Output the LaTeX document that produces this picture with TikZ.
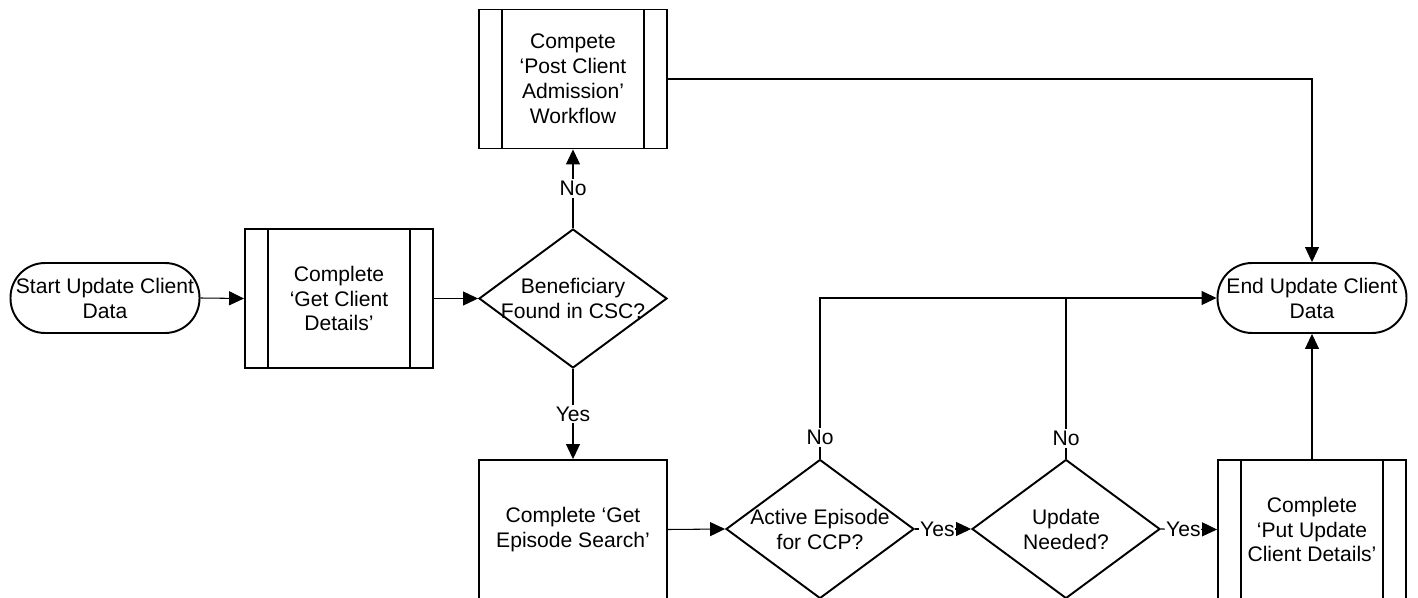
\documentclass[tikz,border=0pt]{standalone}
\usepackage{fontspec}
\setmainfont{Liberation Sans}
\usetikzlibrary{shapes.geometric,arrows.meta}

\begin{document}
\begin{tikzpicture}[x=0.02cm,y=-0.02cm,
  font=\fontsize{12}{14.2}\selectfont,
  box/.style={draw,line width=1.1pt,minimum width=3.76cm,minimum height=2.78cm,inner sep=0,align=center},
  sub/.style={box,path picture={
      \draw[line width=1.1pt]
        ([xshift=0.46cm]path picture bounding box.north west) -- ([xshift=0.46cm]path picture bounding box.south west)
        ([xshift=-0.46cm]path picture bounding box.north east) -- ([xshift=-0.46cm]path picture bounding box.south east);}},
  term/.style={draw,line width=1.1pt,rounded corners=0.69cm,minimum width=3.78cm,minimum height=1.4cm,inner sep=0,align=center},
  dec/.style={draw,diamond,line width=1.1pt,minimum width=3.76cm,minimum height=2.78cm,inner sep=0},
  flow/.style={line width=0.6pt,-{Triangle[length=0.3cm,width=0.28cm]}},
  link/.style={line width=0.6pt},
  lbl/.style={fill=white,inner sep=1.2pt},
  hlbl/.style={fill=white,inner xsep=0.4pt,inner ysep=1.2pt,pos=0.4}
]
\useasboundingbox (0,0) rectangle (1418,598);

% shapes
\node[term] (start) at (105,298) {Start Update Client\\Data};
\node[sub] (gcd) at (339,298.5) {Complete\\‘Get Client\\Details’};
\node[dec] (ben) at (573,298.5) {};
\node[align=center] (benT) at (ben) {Beneficiary\\Found in CSC?};
\node[sub] (post) at (573,79) {Compete\\‘Post Client\\Admission’\\Workflow};
\node[term] (end) at (1312,298) {End Update Client\\Data};
\node[box] (eps) at (573,529.5) {Complete ‘Get\\Episode Search’};
\node[dec] (act) at (820,529) {};
\node[align=center] (actT) at (act) {Active Episode\\for CCP?};
\node[dec] (upd) at (1066,529) {};
\node[align=center] (updT) at (upd) {Update\\Needed?};
\node[sub] (put) at (1312,529.5) {Complete\\‘Put Update\\Client Details’};

% connectors
\draw[flow] (start.east) -- (gcd.west);
\draw[flow] (gcd.east) -- (ben.west);
\draw[flow] (ben.north) -- node[lbl] {No} (post.south);
\draw[flow] (ben.south) -- node[lbl] {Yes} (eps.north);
\draw[flow] (post.east) -| (end.north);
\draw[flow] (eps.east) -- (act.west);
\draw[flow] (act.east) -- node[hlbl] {Yes} (upd.west);
\draw[flow] (upd.east) -- node[hlbl] {Yes} (put.west);
\draw[flow] (put.north) -- (end.south);
\draw[flow] (act.north) |- (end.west);
\draw[link] (upd.north) -- (upd.north |- end.west);
\node[lbl] (noA) at ([yshift=0.42cm]act.north) {No};
\node[lbl] (noU) at ([yshift=0.40cm]upd.north) {No};
\end{tikzpicture}
\end{document}
